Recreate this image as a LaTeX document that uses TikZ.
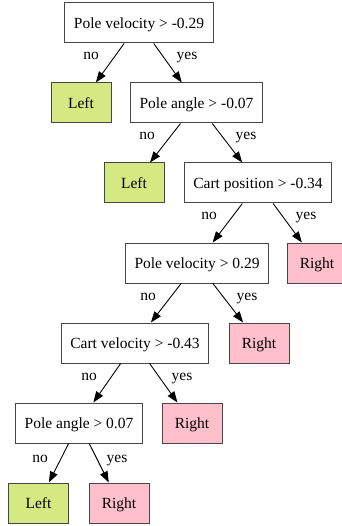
\documentclass[tikz,border=0pt]{standalone}
\usepackage{fontspec}
\setmainfont{Liberation Serif}
\usetikzlibrary{arrows.meta}
\definecolor{leafleft}{RGB}{213,232,130}
\definecolor{leafright}{RGB}{255,192,203}
\definecolor{boxline}{RGB}{70,70,70}
\begin{document}
\begin{tikzpicture}[x=1pt,y=-1pt,
  font=\fontsize{15.5}{18}\selectfont,
  test/.style={draw=boxline, line width=1pt, fill=white, minimum height=40pt,
    minimum width=60pt, inner xsep=9pt, inner ysep=0pt,
    text height=13pt, text depth=2pt},
  goleft/.style={test, fill=leafleft},
  goright/.style={test, fill=leafright},
  edge/.style={draw=black, line width=0.9pt, -{Triangle[length=11pt,width=8pt]}},
  lbl/.style={inner sep=0pt, anchor=base}]
\useasboundingbox (0,0) rectangle (341,526);

% decision nodes
\node[test] (pv1) at (139,23) {Pole velocity > -0.29};
\node[test] (pa1) at (196.5,103) {Pole angle > -0.07};
\node[test] (cp) at (258,183) {Cart position > -0.34};
\node[test] (pv2) at (197,263) {Pole velocity > 0.29};
\node[test] (cv) at (135,343) {Cart velocity > -0.43};
\node[test] (pa2) at (79,423) {Pole angle > 0.07};

% leaves
\node[goleft] (l1) at (81,103) {Left};
\node[goleft] (l2) at (134,183) {Left};
\node[goright] (r1) at (317,263) {Right};
\node[goright] (r2) at (259,343) {Right};
\node[goright] (r3) at (192,423) {Right};
\node[goleft] (l3) at (38.5,503) {Left};
\node[goright] (r4) at (119,503) {Right};

% branches
\draw[edge] (pv1) -- (l1);
\draw[edge] (pv1) -- (pa1);
\draw[edge] (pa1) -- (l2);
\draw[edge] (pa1) -- (cp);
\draw[edge] (cp) -- (pv2);
\draw[edge] (cp) -- (r1);
\draw[edge] (pv2) -- (cv);
\draw[edge] (pv2) -- (r2);
\draw[edge] (cv) -- (pa2);
\draw[edge] (cv) -- (r3);
\draw[edge] (pa2) -- (l3);
\draw[edge] (pa2) -- (r4);

% branch labels (placed by baseline)
\node[lbl] (n1) at (91,60) {no};
\node[lbl] (y1) at (187,60) {yes};
\node[lbl] (n2) at (147,140) {no};
\node[lbl] (y2) at (246,140) {yes};
\node[lbl] (n3) at (209,220) {no};
\node[lbl] (y3) at (306,220) {yes};
\node[lbl] (n4) at (148,300) {no};
\node[lbl] (y4) at (247,300) {yes};
\node[lbl] (n5) at (89,380) {no};
\node[lbl] (y5) at (182,380) {yes};
\node[lbl] (n6) at (40,462) {no};
\node[lbl] (y6) at (117,462) {yes};
\end{tikzpicture}
\end{document}
